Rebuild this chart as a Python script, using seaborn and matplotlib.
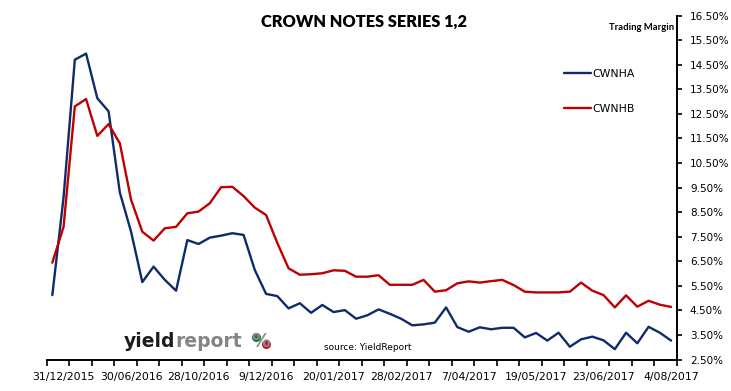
import numpy as np
import pandas as pd
import matplotlib
matplotlib.use("Agg")
import matplotlib.pyplot as plt
import seaborn as sns
from matplotlib.lines import Line2D

# ---------------- data ----------------
cwnha = [5.12, 9.1, 14.7, 14.95, 13.13, 12.6, 9.3, 7.7, 5.65, 6.28,
         5.74, 5.3, 7.36, 7.2, 7.46, 7.54, 7.64, 7.57, 6.14, 5.17,
         5.08, 4.58, 4.79, 4.40, 4.72, 4.43, 4.51, 4.16, 4.30, 4.54,
         4.36, 4.16, 3.89, 3.93, 4.0, 4.62, 3.82, 3.63, 3.81, 3.73,
         3.79, 3.79, 3.4, 3.58, 3.27, 3.59, 3.02, 3.32, 3.43, 3.28,
         2.92, 3.59, 3.16, 3.83, 3.59, 3.27]
cwnhb = [6.44, 7.9, 12.8, 13.1, 11.6, 12.08, 11.3, 9.0, 7.7, 7.34,
         7.84, 7.9, 8.45, 8.52, 8.86, 9.51, 9.53, 9.15, 8.68, 8.38,
         7.24, 6.21, 5.95, 5.97, 6.01, 6.13, 6.11, 5.87, 5.87, 5.93,
         5.54, 5.54, 5.54, 5.74, 5.26, 5.32, 5.6, 5.68, 5.63, 5.69,
         5.74, 5.53, 5.26, 5.23, 5.23, 5.23, 5.26, 5.63, 5.30, 5.12,
         4.62, 5.11, 4.65, 4.89, 4.73, 4.64]
date_labels = ["31/12/2015", "30/06/2016", "28/10/2016", "9/12/2016",
               "20/01/2017", "28/02/2017", "7/04/2017", "19/05/2017",
               "23/06/2017", "4/08/2017"]
label_positions = [1, 7, 13, 19, 25, 31, 37, 43, 49, 55]
series_names = ["CWNHA", "CWNHB"]
y_ticks = [2.5 + k for k in range(15)]

n = len(cwnha)
df = pd.DataFrame({
    "idx": list(range(n)) * 2,
    "value": cwnha + cwnhb,
    "series": [series_names[0]] * n + [series_names[1]] * n,
})

sns.set_theme(style="white")
plt.rcParams["font.family"] = ["DejaVu Sans"]
plt.rcParams["text.color"] = "black"

W, H = 731, 391
fig = plt.figure(figsize=(W / 100, H / 100), dpi=100)
ax = fig.add_axes([46.7 / W, 31.5 / H, 630 / W, 344 / H])

colors = {"CWNHA": "#0E2B6B", "CWNHB": "#C00000"}
sns.lineplot(data=df, x="idx", y="value", hue="series", palette=colors,
             linewidth=1.7, ax=ax, legend=False)

ax.set_xlim(-0.5, n - 0.5)
ax.set_ylim(2.5, 16.5)
ax.set_xlabel("")
ax.set_ylabel("")

for s in ["top", "left"]:
    ax.spines[s].set_visible(False)
for s in ["bottom", "right"]:
    ax.spines[s].set_visible(True)
    ax.spines[s].set_color("black")
    ax.spines[s].set_linewidth(1.4)

ax.yaxis.tick_right()
ax.set_yticks(y_ticks)
ax.set_yticklabels([f"{v:.2f}%" for v in y_ticks])
ax.tick_params(axis="y", which="major", right=True, left=False, direction="out",
               length=3.5, width=1.2, color="black", labelsize=7.5, pad=6,
               labelcolor="black")

ax.set_xticks(label_positions)
ax.set_xticklabels(date_labels)
ax.set_xticks(np.arange(-0.5, n, 2), minor=True)
ax.tick_params(axis="x", which="major", length=0, labelsize=7.8, pad=9,
               labelcolor="black")
ax.tick_params(axis="x", which="minor", bottom=True, direction="out",
               length=4, width=1.2, color="black")
ax.grid(False)

handles = [Line2D([0], [0], color=colors[s], lw=1.7) for s in series_names]
leg = ax.legend(handles, series_names, loc="upper left",
                bbox_to_anchor=(564 / W, 1 - 69 / H), bbox_transform=fig.transFigure,
                frameon=False, fontsize=7.8, handlelength=2.5, handletextpad=0.15,
                labelspacing=2.3, borderpad=0, borderaxespad=0)
for t in leg.get_texts():
    t.set_color("black")

fig.text(364 / W, 1 - 22 / H, "CROWN NOTES SERIES 1,2", ha="center", va="center",
         fontsize=11.8, fontweight="heavy", color="black",
         family=["Lato", "DejaVu Sans"])
fig.text(642 / W, 1 - 28 / H, "Trading Margin", ha="center", va="center",
         fontsize=6.8, fontweight="bold", color="black",
         family=["Lato", "DejaVu Sans"])

# logo
fig.canvas.draw()
r = fig.canvas.get_renderer()
t1 = fig.text(124 / W, 1 - 347 / H, "yield", ha="left", va="baseline",
              fontsize=13.5, fontweight="bold", color="#1c1c1c")
e1 = t1.get_window_extent(r)
t2 = fig.text(e1.x1 / W, 1 - 347 / H, "report", ha="left", va="baseline",
              fontsize=13.5, fontweight="bold", color="#858585")
pl = 251.7
fig.text(pl / W, 1 - 347 / H, "%", ha="left", va="baseline",
         fontsize=13.5, fontweight="bold", color="#8a8a8a")
fs_px = 13.5 * 100 / 72
fig.add_artist(Line2D([(pl + 0.25 * fs_px) / W], [1 - (347 - 0.56 * fs_px) / H],
                      marker="o", markersize=5.5, color="#1E7A3A", lw=0,
                      transform=fig.transFigure))
fig.add_artist(Line2D([(pl + 0.76 * fs_px) / W], [1 - (347 - 0.18 * fs_px) / H],
                      marker="o", markersize=5.5, color="#C8102E", lw=0,
                      transform=fig.transFigure))

fig.text(324 / W, 1 - 347 / H, "source: YieldReport", ha="left", va="center",
         fontsize=6.5, color="black")

fig.savefig("out.png", dpi=100)
